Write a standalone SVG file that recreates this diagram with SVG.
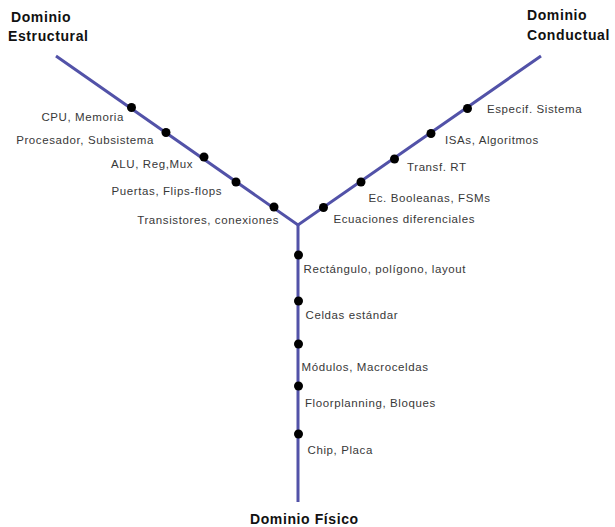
<svg xmlns="http://www.w3.org/2000/svg" width="615" height="527" viewBox="0 0 615 527">
<style>
.ln{stroke:#5252a8;stroke-width:3;fill:none;stroke-linejoin:miter}
.dot{fill:#000}
.lbl{font-family:"Liberation Sans",Arial,sans-serif;font-size:11.5px;letter-spacing:0.6px;fill:#383838}
.ttl{font-family:"Liberation Sans",Arial,sans-serif;font-size:14px;font-weight:bold;letter-spacing:0.6px;fill:#111}
</style>
<rect width="615" height="527" fill="#fff"/>
<g id="connectors">
<polyline class="ln" points="56,56 298,225 541,56"/>
<line class="ln" x1="298" y1="225" x2="298" y2="502"/>
</g>
<g id="titles">
<text class="ttl" x="11" y="22">Dominio</text>
<text class="ttl" x="8" y="41">Estructural</text>
<text class="ttl" x="527" y="19.5">Dominio</text>
<text class="ttl" x="527" y="39.5">Conductual</text>
<text class="ttl" x="250" y="523.5">Dominio Físico</text>
</g>
<g id="estructural">
<g id="n-cpu"><circle class="dot" cx="131.5" cy="107.5" r="4.5"/><text class="lbl" x="124" y="121" text-anchor="end">CPU, Memoria</text></g>
<g id="n-proc"><circle class="dot" cx="166" cy="132.5" r="4.5"/><text class="lbl" x="154" y="144" text-anchor="end">Procesador, Subsistema</text></g>
<g id="n-alu"><circle class="dot" cx="204" cy="157" r="4.5"/><text class="lbl" x="193" y="168" text-anchor="end">ALU, Reg,Mux</text></g>
<g id="n-puertas"><circle class="dot" cx="236" cy="182" r="4.5"/><text class="lbl" x="222" y="195" text-anchor="end">Puertas, Flips-flops</text></g>
<g id="n-trans"><circle class="dot" cx="274" cy="207" r="4.5"/><text class="lbl" x="279" y="224" text-anchor="end">Transistores, conexiones</text></g>
</g>
<g id="conductual">
<g id="n-espec"><circle class="dot" cx="467.5" cy="108.5" r="4.5"/><text class="lbl" x="487" y="113">Especif. Sistema</text></g>
<g id="n-isa"><circle class="dot" cx="431" cy="133.5" r="4.5"/><text class="lbl" x="445" y="144">ISAs, Algoritmos</text></g>
<g id="n-rt"><circle class="dot" cx="394.5" cy="159" r="4.5"/><text class="lbl" x="407" y="171">Transf. RT</text></g>
<g id="n-bool"><circle class="dot" cx="361" cy="182" r="4.5"/><text class="lbl" x="368.5" y="202">Ec. Booleanas, FSMs</text></g>
<g id="n-ecdif"><circle class="dot" cx="323.5" cy="207.5" r="4.5"/><text class="lbl" x="333.5" y="223">Ecuaciones diferenciales</text></g>
</g>
<g id="fisico">
<g id="n-rect"><circle class="dot" cx="298.5" cy="255" r="4.5"/><text class="lbl" x="303.5" y="272.5">Rectángulo, polígono, layout</text></g>
<g id="n-celdas"><circle class="dot" cx="298.5" cy="301" r="4.5"/><text class="lbl" x="305.5" y="319">Celdas estándar</text></g>
<g id="n-mod"><circle class="dot" cx="298.5" cy="344" r="4.5"/><text class="lbl" x="301.5" y="371">Módulos, Macroceldas</text></g>
<g id="n-floor"><circle class="dot" cx="298.5" cy="386" r="4.5"/><text class="lbl" x="305" y="407">Floorplanning, Bloques</text></g>
<g id="n-chip"><circle class="dot" cx="298.5" cy="434" r="4.5"/><text class="lbl" x="307.5" y="454">Chip, Placa</text></g>
</g>
</svg>
